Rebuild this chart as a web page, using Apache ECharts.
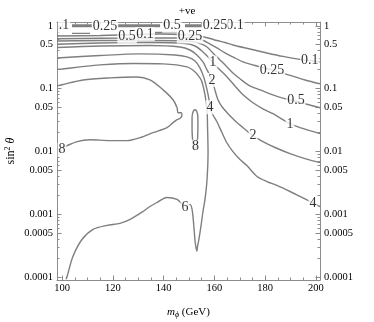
<!DOCTYPE html>
<html>
<head>
<meta charset="utf-8">
<script src="https://cdn.jsdelivr.net/npm/echarts@6.0.0/dist/echarts.min.js"></script>
<style>
html,body{margin:0;padding:0;background:#fff;}
#chart{width:374px;height:322px;}
</style>
</head>
<body>
<div id="chart"></div>
<script>
// ---------- data (m_phi in GeV, sin^2 theta) ----------
const xMajorTicks = [100, 120, 140, 160, 180, 200];
const xMinorTicks = [105, 110, 115, 125, 130, 135, 145, 150, 155, 165, 170, 175, 185, 190, 195];
const yMajorTicks = [1, 0.5, 0.1, 0.05, 0.01, 0.005, 0.001, 0.0005, 0.0001];
const yMinorTicks = [0.9, 0.8, 0.7, 0.6, 0.4, 0.3, 0.2,
  0.09, 0.08, 0.07, 0.06, 0.04, 0.03, 0.02,
  0.009, 0.008, 0.007, 0.006, 0.004, 0.003, 0.002,
  0.0009, 0.0008, 0.0007, 0.0006, 0.0004, 0.0003, 0.0002];

const contour0_1 = [[98.0,0.687],[115.0,0.699],[129.5,0.725],[138.6,0.738],[145.7,0.725],[153.1,0.699],[155.9,0.662],[158.3,0.626],[161.0,0.582],[164.2,0.541],[167.3,0.494],[174.0,0.427],[180.7,0.369],[187.0,0.325],[193.7,0.291],[198.8,0.275],[201.6,0.265]];
const contour0_25 = [[98.0,0.622],[115.0,0.631],[134.6,0.638],[146.5,0.638],[150.4,0.650],[155.1,0.593],[158.3,0.512],[161.0,0.443],[164.2,0.369],[167.3,0.319],[171.3,0.265],[175.2,0.238],[178.7,0.217],[182.7,0.198],[186.6,0.177],[190.6,0.159],[195.7,0.137],[201.6,0.119]];
const contour0_5 = [[98.0,0.572],[115.0,0.582],[134.6,0.582],[148.4,0.572],[152.4,0.551],[154.3,0.522],[157.1,0.459],[159.4,0.369],[162.2,0.286],[165.0,0.221],[167.3,0.177],[170.1,0.143],[174.0,0.110],[178.0,0.0953],[181.9,0.0824],[186.6,0.0711],[191.3,0.0638],[195.7,0.0572],[201.6,0.0494]];
const contour1 = [[98.0,0.507],[115.0,0.531],[134.6,0.541],[148.4,0.522],[152.4,0.476],[155.5,0.383],[157.9,0.307],[159.4,0.256],[162.2,0.198],[165.0,0.153],[168.1,0.110],[171.3,0.0794],[175.2,0.0593],[179.1,0.0476],[183.1,0.0397],[187.0,0.0319],[189.8,0.0275],[193.7,0.0238],[201.6,0.0191]];
const contour2 = [[98.0,0.451],[115.0,0.476],[134.6,0.485],[146.5,0.459],[150.4,0.411],[153.1,0.343],[155.5,0.265],[157.1,0.198],[159.1,0.137],[160.2,0.0953],[161.4,0.0662],[163.0,0.0513],[165.4,0.0397],[168.1,0.0307],[171.3,0.0238],[175.2,0.0177],[179.1,0.0143],[183.9,0.0115],[189.8,0.00919],[195.7,0.00766],[201.6,0.00662]];
const contour4 = [[98.0,0.307],[115.0,0.336],[130.7,0.356],[144.5,0.343],[149.2,0.319],[152.4,0.275],[154.3,0.213],[155.9,0.148],[157.1,0.0953],[157.9,0.0662],[158.3,0.0494],[159.4,0.0383],[161.0,0.0296],[163.0,0.0198],[164.9,0.0137],[167.3,0.00989],[170.1,0.00738],[172.8,0.00593],[176.8,0.00397],[180.7,0.00330],[184.6,0.00286],[189.8,0.00229],[193.7,0.00191],[197.6,0.00159],[201.6,0.00132]];
const contour6 = [[98.0,0.202],[100,0.205],[107.1,0.221],[115.0,0.238],[128.0,0.251],[139.8,0.247],[149.2,0.221],[152.4,0.184],[154.3,0.148],[155.1,0.128],[156.3,0.0794],[157.1,0.0459],[157.3,0.0247],[157.5,0.00953],[157.1,0.00356],[156.3,0.00171],[155.5,0.00110],[154.7,0.000638],[153.9,0.000397],[153.3,0.000296],[153.1,0.000256],[152.8,0.000286],[152.4,0.000366],[152.0,0.000572],[151.6,0.000887],[151.2,0.00119],[150.4,0.00143],[148.4,0.00137],[145.3,0.00171],[141.3,0.00184],[137.4,0.00153],[134.6,0.00132],[131.9,0.00110],[126.8,0.000824],[122.8,0.000711],[117.7,0.000662],[112.2,0.000572],[107.9,0.000397],[104.3,0.000213],[102.0,0.000102],[101.6,0.000092]];
const contour8Lobe = [[98.0,0.110],[100,0.115],[108.3,0.137],[118.9,0.148],[129.5,0.153],[134.6,0.137],[139.8,0.0953],[143.7,0.0662],[145.3,0.0494],[145.7,0.0411],[146.9,0.0411],[147.2,0.0369],[146.5,0.0337],[145.3,0.0319],[143.7,0.0286],[141.3,0.0238],[135.8,0.0198],[130.7,0.0165],[125.6,0.0148],[118.9,0.0148],[111.0,0.0153],[105.9,0.0143],[101.2,0.0119],[98.0,0.0106]];
const contour8Loop = [[151.6,0.0127],[151.2,0.0221],[151.2,0.0343],[151.6,0.0427],[152.4,0.0459],[153.1,0.0427],[153.5,0.0343],[153.5,0.0221],[153.1,0.0127],[152.4,0.0110],[151.6,0.0127]];
// short contour pieces hugging the top edge
const topBandSegments = [[[103.9,1.0],[111.8,1.0]], [[122.0,1.0],[138.6,1.0]], [[148.4,1.0],[155.1,1.0]]];
const upperBandSegments = [[[103.9,0.757],[111.0,0.757]], [[136.6,0.78],[145.7,0.78]]];

const labelTexts = ['.1','0.25','0.5','0.1','0.25','0.5','0.1','0.25','1','2','4','0.25','0.1','0.5','1','2','4','8','8','6'];
const labelMass  = [100.8,116.9,143.3,168.1,160.2,125.6,132.7,150.4,159.4,159.1,158.3,182.7,197.6,192.1,189.8,175.2,198.8,100.0,152.6,148.4];
const labelSin2  = [1.0,0.99,1.0,1.0,1.0,0.674,0.738,0.674,0.261,0.137,0.0503,0.198,0.280,0.0638,0.0265,0.0177,0.00148,0.0106,0.0118,0.00130];

// ---------- styling ----------
const FONT = "'Liberation Serif','DejaVu Serif',serif";
const FRAME = '#8c8c8c';
const LINE = '#7f7f7f';
const XMIN = 98, XMAX = 201.6, YMIN = -4.05, YMAX = 0.06;
const lg = v => Math.log10(v);
const fmtY = v => String(Number(Math.pow(10, v).toPrecision(1)));

function xAxisDef(pos, major, withLabels, withLine) {
  const ticks = major ? xMajorTicks : xMinorTicks;
  return {
    type: 'value', position: pos, min: XMIN, max: XMAX,
    axisLine: { show: withLine, onZero: false, lineStyle: { color: FRAME, width: 1 } },
    axisTick: { show: true, inside: true, length: major ? 4.5 : 2.5, customValues: ticks, lineStyle: { color: FRAME, width: 1 } },
    axisLabel: withLabels ? { show: true, customValues: ticks, fontFamily: FONT, fontSize: 10.5, color: '#000', margin: 3 } : { show: false },
    splitLine: { show: false }
  };
}
function yAxisDef(pos, major, withLabels, withLine) {
  const ticks = (major ? yMajorTicks : yMinorTicks).map(lg);
  return {
    type: 'value', position: pos, min: YMIN, max: YMAX,
    axisLine: { show: withLine, onZero: false, lineStyle: { color: FRAME, width: 1 } },
    axisTick: { show: true, inside: true, length: major ? 4.5 : 2.5, customValues: ticks, lineStyle: { color: FRAME, width: 1 } },
    axisLabel: withLabels ? { show: true, customValues: ticks, formatter: fmtY, fontFamily: FONT, fontSize: 10.5, color: '#000', margin: 4 } : { show: false },
    splitLine: { show: false }
  };
}

const xAxes = [
  xAxisDef('bottom', true, true, true),
  xAxisDef('bottom', false, false, false),
  xAxisDef('top', true, false, true),
  xAxisDef('top', false, false, false)
];
Object.assign(xAxes[0], {
  name: '{i|m}{s|ϕ} (GeV)', nameLocation: 'middle', nameGap: 25, nameMoveOverlap: false,
  nameTextStyle: { fontFamily: FONT, fontSize: 11, color: '#000',
    rich: { i: { fontFamily: FONT, fontSize: 11, fontStyle: 'italic', color: '#000' },
            s: { fontFamily: FONT, fontSize: 8, fontStyle: 'italic', color: '#000', padding: [6, 0, 0, 0] } } }
});
const yAxes = [
  yAxisDef('left', true, true, true),
  yAxisDef('left', false, false, false),
  yAxisDef('right', true, true, true),
  yAxisDef('right', false, false, false)
];
Object.assign(yAxes[0], {
  name: 'sin{s|2} {i|θ}', nameLocation: 'middle', nameGap: 39, nameRotate: 90, nameMoveOverlap: false,
  nameTextStyle: { fontFamily: FONT, fontSize: 12, color: '#000',
    rich: { i: { fontFamily: FONT, fontSize: 12, fontStyle: 'italic', color: '#000' },
            s: { fontFamily: FONT, fontSize: 8, color: '#000', padding: [0, 0, 6, 0] } } }
});

const contourList = [contour0_1, contour0_25, contour0_5, contour1, contour2, contour4, contour6, contour8Lobe, contour8Loop];
const series = [];
contourList.forEach(c => {
  series.push({
    type: 'line', xAxisIndex: 0, yAxisIndex: 0, silent: true, animation: false,
    data: c.map(p => [p[0], lg(p[1])]), symbol: 'none', showSymbol: false, smooth: 0.3,
    lineStyle: { color: LINE, width: 1.4 }, z: 2
  });
});
topBandSegments.forEach(seg => {
  series.push({ type: 'line', silent: true, animation: false, data: seg.map(p => [p[0], lg(p[1])]),
    symbol: 'none', lineStyle: { color: LINE, width: 2.8 }, z: 2 });
});
upperBandSegments.forEach(seg => {
  series.push({ type: 'line', silent: true, animation: false, data: seg.map(p => [p[0], lg(p[1])]),
    symbol: 'none', lineStyle: { color: LINE, width: 1.4 }, z: 2 });
});
series.push({
  type: 'scatter', silent: true, animation: false, z: 5, clip: false,
  data: labelTexts.map((t, i) => ({ name: t, value: [labelMass[i], lg(labelSin2[i])] })),
  symbol: 'circle', symbolSize: 2, itemStyle: { color: 'rgba(255,255,255,0)' },
  label: { show: true, position: 'inside', formatter: p => p.name, fontFamily: FONT, fontSize: 14,
    color: '#000', backgroundColor: '#fff', padding: [0, 1], lineHeight: 14 },
  labelLayout: { hideOverlap: false }
});

const chart = echarts.init(document.getElementById('chart'), null, { renderer: 'canvas' });
chart.setOption({
  animation: false,
  backgroundColor: '#fff',
  title: { text: '+ve', left: 'center', top: 1, textStyle: { fontFamily: FONT, fontSize: 11, fontWeight: 'normal', color: '#000' } },
  grid: { left: 57, right: 54, top: 22, bottom: 42, containLabel: false, outerBoundsMode: 'none' },
  xAxis: xAxes,
  yAxis: yAxes,
  series: series
});
</script>
</body>
</html>
